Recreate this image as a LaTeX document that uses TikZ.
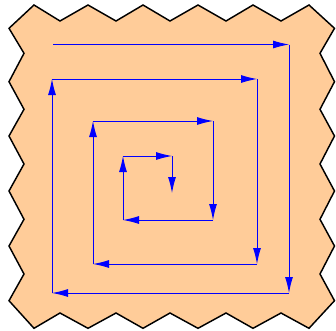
\documentclass[tikz,border=0pt]{standalone}
\usetikzlibrary{arrows.meta}
\begin{document}
\begin{tikzpicture}[x=0.03cm, y=-0.03cm,
    stamp/.style={fill=orange!40, draw=black, line width=1.25pt},
    spiral/.style={-{Latex[length=0.48cm, width=0.24cm]}, blue, line width=0.8pt}]
    \useasboundingbox (0,0) rectangle (336,330);

    % zigzag border
    \filldraw[stamp] (9,28.3)
        \foreach \x [count=\n] in {34,60,88,116,143,170,198,226,253,281,309} { -- (\x, {21-16*mod(\n,2)}) }
        \foreach \y [count=\n] in {28.3,53.3,81.7,109.3,136,164,191,219.3,246,274,300.7} { -- ({320+14.5*mod(\n,2)}, \y) }
        \foreach \x [count=\n] in {309,281,253,226,198,170,143,116,88,60,34} { -- (\x, {313+15.3*mod(\n,2)}) }
        \foreach \y [count=\n] in {300.7,274,246,219.3,191,164,136,109.3,81.7,53.3} { -- ({24-15*mod(\n,2)}, \y) }
        -- cycle;

    % spiral corners
    \foreach \px/\py [count=\k from 0] in {53/44.5, 289/44.5, 289/293, 52/293, 52/79, 257/79, 257/264,
        93/264, 93/121, 213/121, 213/220, 123/220, 123/156, 172/156, 172/193}
        \coordinate (s\k) at (\px,\py);

    \foreach \k in {0,...,13} {
        \pgfmathtruncatemacro\nxt{\k+1}
        \draw[spiral] (s\k) -- (s\nxt);
    }
\end{tikzpicture}
\end{document}
